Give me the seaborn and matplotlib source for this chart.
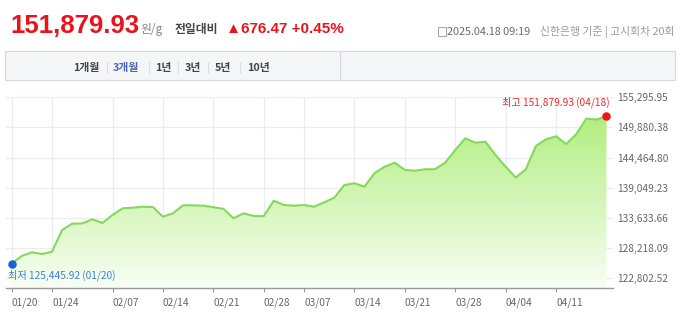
import numpy as np
import pandas as pd
import matplotlib
matplotlib.use("Agg")
import matplotlib.pyplot as plt
from matplotlib.patches import Rectangle
from matplotlib.colors import LinearSegmentedColormap
import seaborn as sns

# ---------------- data ----------------
dates = [
    "01/20", "01/21", "01/22", "01/23", "01/24", "01/31",
    "02/03", "02/04", "02/05", "02/06", "02/07",
    "02/10", "02/11", "02/12", "02/13", "02/14",
    "02/17", "02/18", "02/19", "02/20", "02/21",
    "02/24", "02/25", "02/26", "02/27", "02/28",
    "03/04", "03/05", "03/06", "03/07",
    "03/10", "03/11", "03/12", "03/13", "03/14",
    "03/17", "03/18", "03/19", "03/20", "03/21",
    "03/24", "03/25", "03/26", "03/27", "03/28",
    "03/31", "04/01", "04/02", "04/03", "04/04",
    "04/07", "04/08", "04/09", "04/10", "04/11",
    "04/14", "04/15", "04/16", "04/17", "04/18",
]
prices = [
    125445.92, 126806, 127470, 127165, 127578, 131473,
    132604, 132650, 133394, 132730, 134166,
    135369, 135477, 135656, 135602, 133861,
    134471, 135908, 135890, 135836, 135566,
    135279, 133574, 134471, 133987, 133951,
    136733, 135962, 135836, 135962,
    135656, 136446, 137272, 139552, 139857,
    139246, 141706, 142838, 143555, 142245,
    142119, 142371, 142390, 143555, 145835,
    147935, 147146, 147325, 144938, 142838,
    140899, 142371, 146553, 147756, 148294,
    146912, 148654, 151472, 151293, 151879.93,
]
x_tick_labels = ["01/20", "01/24", "02/07", "02/14", "02/21", "02/28",
                 "03/07", "03/14", "03/21", "03/28", "04/04", "04/11"]
y_tick_values = [122802.52, 128218.09, 133633.66, 139049.23,
                 144464.80, 149880.38, 155295.95]
period_buttons = ["1개월", "3개월", "1년", "3년", "5년", "10년"]

df = pd.DataFrame({"idx": np.arange(len(prices)), "date": dates, "price": prices})

# ---------------- style ----------------
sns.set_theme(style="white")
plt.rcParams["font.family"] = ["Noto Sans CJK KR", "DejaVu Sans"]

W, H = 680, 316
fig = plt.figure(figsize=(W / 100, H / 100), dpi=100)
fig.patch.set_facecolor("white")

def fx(px):
    return px / W

def fy(py):
    return 1 - py / H

# axes: left 6px, right 613px, top 97.3px, bottom 288px
ax = fig.add_axes([fx(6), fy(288), fx(607), (288 - 97.3) / H])
ax.set_facecolor("white")

n = len(prices)
y_top = y_tick_values[-1]
y_bot = y_tick_values[0] - (288 - 278.3) * (y_tick_values[-1] - y_tick_values[0]) / (278.3 - 97.3)

# grid
tick_idx = [dates.index(t) for t in x_tick_labels]
for yv in y_tick_values:
    ax.axhline(yv, color="#ececec", lw=0.9, zorder=0)
for xi in tick_idx:
    ax.axvline(xi, color="#ececec", lw=0.9, zorder=0)

# gradient fill under line
poly = ax.fill_between(df["idx"], df["price"], y_bot, color="none", lw=0, zorder=1)
cmap = LinearSegmentedColormap.from_list("g", ["#f8fef4", "#b2ee80"])
grad = np.linspace(0, 1, 256).reshape(-1, 1)
im = ax.imshow(grad, cmap=cmap, aspect="auto", origin="lower",
               extent=[0, n - 1, y_bot, max(prices)], zorder=1)
path = poly.get_paths()[0]
im.set_clip_path(path, transform=ax.transData)

sns.lineplot(data=df, x="idx", y="price", ax=ax, color="#86d85c", lw=1.5, zorder=3)
ax.set_xlim(-0.565, n - 1 + 0.65)
ax.set_ylim(y_bot, y_top)

# min / max markers
i_min = int(np.argmin(prices))
i_max = int(np.argmax(prices))
ax.scatter([i_min], [prices[i_min]], s=26, color="#1565d8", zorder=5, clip_on=False)
ax.scatter([i_max], [prices[i_max]], s=26, color="#f01414", zorder=5, clip_on=False)
ax.annotate(f"최저 {prices[i_min]:,.2f} ({dates[i_min]})", (i_min, prices[i_min]),
            xytext=(-3, -8.5), textcoords="offset points", ha="left", va="center",
            fontsize=7.3, color="#3d7fd9", annotation_clip=False, zorder=6)
ax.annotate(f"최고 {prices[i_max]:,.2f} ({dates[i_max]})", (i_max, prices[i_max]),
            xytext=(2.5, 10), textcoords="offset points", ha="right", va="center",
            fontsize=7.3, color="#ee2a2a", annotation_clip=False, zorder=6)

# axes styling
ax.set_xlabel("")
ax.set_ylabel("")
ax.set_xticks(tick_idx)
ax.set_xticklabels(x_tick_labels, ha="left")
ax.set_yticks(y_tick_values)
ax.set_yticklabels([f"{v:,.2f}" for v in y_tick_values])
ax.yaxis.tick_right()
ax.tick_params(axis="x", length=3, width=0.8, color="#999999", colors="#666666",
               labelsize=7.3, pad=3.5, bottom=True)
ax.tick_params(axis="y", length=0, colors="#666666", labelsize=7.3, pad=3, right=False)
for lab in ax.get_xticklabels() + ax.get_yticklabels():
    lab.set_color("#666666")
for s in ["top", "left", "right"]:
    ax.spines[s].set_visible(False)
ax.spines["bottom"].set_color("#9a9a9a")
ax.spines["bottom"].set_linewidth(1.0)

# ---------------- header ----------------
fig.text(fx(10), fy(33), f"{prices[-1]:,.2f}", fontsize=18.5, fontweight="bold",
         color="#e8141c", ha="left", va="baseline", family=["Liberation Sans"])
fig.text(fx(140), fy(33), "원/g", fontsize=8.5, color="#8a8a8a", ha="left", va="baseline")
fig.text(fx(175), fy(33), "전일대비", fontsize=8.5, fontweight="bold", color="#444444",
         ha="left", va="baseline")
fig.text(fx(226), fy(33), "▲676.47 +0.45%", fontsize=11, fontweight="bold",
         color="#e8141c", ha="left", va="baseline", family=["Liberation Sans", "DejaVu Sans"])

# right header info
fig.patches.append(Rectangle((fx(438), fy(36)), fx(8), 9 / H, transform=fig.transFigure,
                             facecolor="none", edgecolor="#aaaaaa", lw=0.8))
fig.text(fx(447), fy(35), "2025.04.18 09:19", fontsize=7.8, color="#6a6a6a",
         ha="left", va="baseline")
fig.text(fx(675), fy(35), "신한은행 기준 | 고시회차 20회", fontsize=7.8, color="#9a9a9a",
         ha="right", va="baseline")

# ---------------- period button bar ----------------
fig.patches.append(Rectangle((fx(5), fy(80)), fx(670), 29 / H, transform=fig.transFigure,
                             facecolor="#f5f6f8", edgecolor="#d6d9de", lw=0.9))
fig.add_artist(plt.Line2D([fx(340), fx(340)], [fy(80), fy(51)], transform=fig.transFigure,
                          color="#d6d9de", lw=0.9))
btn_x = [73, 113, 155, 185, 215, 247]
sep_x = [107, 149, 178, 208, 240]
for label, bx in zip(period_buttons, btn_x):
    fig.text(fx(bx), fy(67.5), label, fontsize=7.8, fontweight="bold",
             color="#4a68b3" if label == "3개월" else "#444444", ha="left", va="center")
for sx in sep_x:
    fig.add_artist(plt.Line2D([fx(sx), fx(sx)], [fy(73), fy(62)], transform=fig.transFigure,
                              color="#dddddd", lw=0.8))

fig.savefig("out.png", dpi=100, facecolor="white")
